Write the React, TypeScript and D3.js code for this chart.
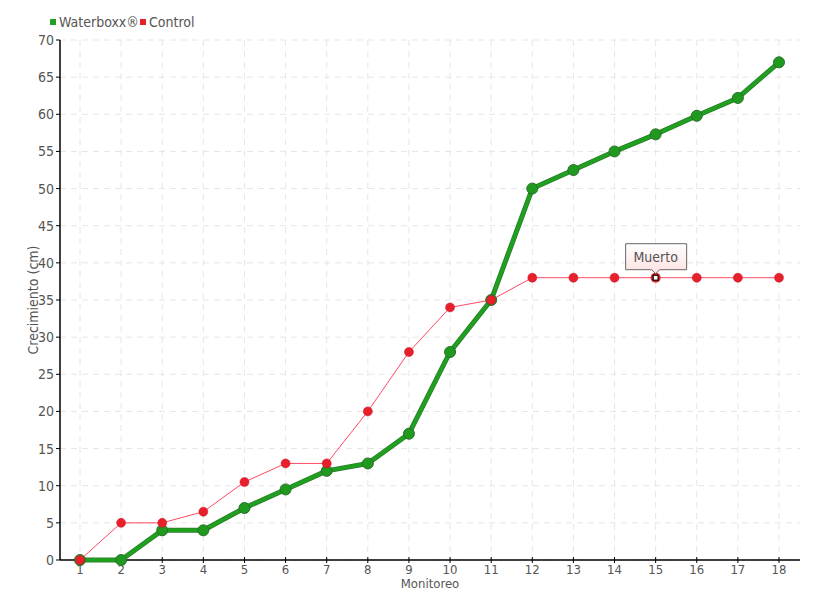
import React from "react";
import * as d3 from "d3";

const categories = [1, 2, 3, 4, 5, 6, 7, 8, 9, 10, 11, 12, 13, 14, 15, 16, 17, 18];
const waterboxx = [0, 0, 4, 4, 7, 9.5, 12, 13, 17, 28, 35, 50, 52.5, 55, 57.3, 59.8, 62.2, 67];
const control = [0, 5, 5, 6.5, 10.5, 13, 13, 20, 28, 34, 35, 38, 38, 38, 38, 38, 38, 38];
const yTicks = [0, 5, 10, 15, 20, 25, 30, 35, 40, 45, 50, 55, 60, 65, 70];
const seriesNames = ["Waterboxx®", "Control"];
const tooltipIndex = 14;
const tooltipText = "Muerto";

const W = 820, H = 600;
const left = 60, right = 800, top = 40, bottom = 560;
const FONT = "'DejaVu Sans Condensed', 'Liberation Sans Narrow', 'Noto Sans', sans-serif";
const TXT = "#555";

export default function App() {
  const x = d3.scaleLinear().domain([1, 18]).range([80, 779]);
  const y = d3.scaleLinear().domain([0, 70]).range([bottom, top]);
  const line = d3.line<number>().x((_, i) => x(categories[i])).y((d) => y(d));
  const tx = x(categories[tooltipIndex]);
  const ty = y(control[tooltipIndex]);
  return (
    <svg width={W} height={H} style={{ position: "absolute", left: 0, top: 0, fontFamily: FONT }}>
      <rect width={W} height={H} fill="#fff" />
      {yTicks.map((t) => (
        <line key={"gy" + t} x1={left} x2={right} y1={y(t)} y2={y(t)} stroke="#e6e6e6" strokeDasharray="6,5" />
      ))}
      {categories.map((c) => (
        <line key={"gx" + c} x1={x(c)} x2={x(c)} y1={top} y2={bottom} stroke="#e6e6e6" strokeDasharray="6,5" />
      ))}
      <line x1={left} x2={left} y1={top} y2={bottom} stroke="#000" strokeWidth={1.5} />
      <line x1={left} x2={right} y1={bottom} y2={bottom} stroke="#000" strokeWidth={1.5} />
      {yTicks.map((t) => (
        <g key={"ty" + t}>
          <line x1={left - 4} x2={left} y1={y(t)} y2={y(t)} stroke="#000" />
          <text x={left - 6} y={y(t) + 5} textAnchor="end" fontSize={14} fill={TXT}>{t}</text>
        </g>
      ))}
      {categories.map((c) => (
        <g key={"tx" + c}>
          <line x1={x(c)} x2={x(c)} y1={bottom - 3} y2={bottom + 3} stroke="#000" />
          <text x={x(c)} y={bottom + 14} textAnchor="middle" fontSize={13} fill={TXT}>{c}</text>
        </g>
      ))}
      <text x={430} y={588} textAnchor="middle" fontSize={13} fill={TXT}>Monitoreo</text>
      <text transform={`translate(38,${(top + bottom) / 2}) rotate(-90)`} textAnchor="middle" fontSize={14} fill={TXT}>Crecimiento (cm)</text>
      <rect x={50} y={19} width={6} height={6} fill="#22a022" />
      <text x={59} y={27} fontSize={14} fill={TXT}>{seriesNames[0]}</text>
      <rect x={140} y={19} width={6} height={6} fill="#e8202a" />
      <text x={149} y={27} fontSize={14} fill={TXT}>{seriesNames[1]}</text>
      <path d={line(control) || ""} fill="none" stroke="#ff4a64" strokeWidth={1} />
      <path d={line(waterboxx) || ""} fill="none" stroke="#2a7a2a" strokeWidth={5} strokeLinejoin="round" />
      <path d={line(waterboxx) || ""} fill="none" stroke="#1fa01f" strokeWidth={3.5} strokeLinejoin="round" />
      {waterboxx.map((v, i) => (
        <circle key={"w" + i} cx={x(categories[i])} cy={y(v)} r={5.5} fill="#1f9a1f" stroke="#2b6f2b" strokeWidth={1} />
      ))}
      {control.map((v, i) =>
        i === tooltipIndex ? (
          <g key={"c" + i}>
            <circle cx={x(categories[i])} cy={y(v)} r={5} fill="#e8202a" />
            <rect x={x(categories[i]) - 2.5} y={y(v) - 2.5} width={5} height={5} fill="#fff" stroke="#000" strokeWidth={1.2} />
          </g>
        ) : (
          <circle key={"c" + i} cx={x(categories[i])} cy={y(v)} r={4.5} fill="#e8202a" stroke="#c8102a" strokeWidth={0.5} />
        )
      )}
      <defs>
        <linearGradient id="tipg" x1="0" x2="0" y1="0" y2="1">
          <stop offset="0" stopColor="#fff" />
          <stop offset="1" stopColor="#fde0e0" />
        </linearGradient>
      </defs>
      <path
        d={`M${tx - 30},${ty - 34} H${tx + 31} V${ty - 8} H${tx + 4} L${tx},${ty - 4} L${tx - 4},${ty - 8} H${tx - 30} Z`}
        fill="url(#tipg)"
        stroke="#666"
        strokeWidth={1}
      />
      <text x={tx} y={ty - 16} textAnchor="middle" fontSize={14} fill={TXT}>{tooltipText}</text>
    </svg>
  );
}
